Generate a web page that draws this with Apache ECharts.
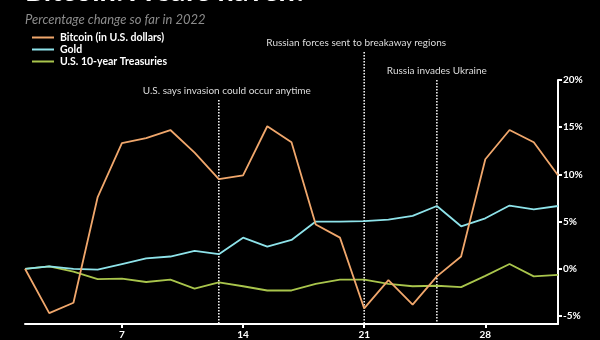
<!DOCTYPE html>
<html>
<head>
<meta charset="utf-8">
<script src="https://cdn.jsdelivr.net/npm/echarts@6/dist/echarts.min.js"></script>
<style>
html,body{margin:0;padding:0;background:#000;}
#c{width:600px;height:340px;}
</style>
</head>
<body>
<div id="c"></div>
<script>
// Trading days, Feb 1 – Mar 3, 2022
var dates = ['Feb 1','Feb 2','Feb 3','Feb 4','Feb 7','Feb 8','Feb 9','Feb 10','Feb 11','Feb 14','Feb 15','Feb 16','Feb 17','Feb 18','Feb 21','Feb 22','Feb 23','Feb 24','Feb 25','Feb 28','Mar 1','Mar 2','Mar 3'];
var tickDates = ['Feb 7','Feb 14','Feb 21','Feb 28'];
var tickLabels = ['7','14','21','28'];
var yTicks = [-5, 0, 5, 10, 15, 20];

var bitcoin = [0, -4.7, -3.6, 7.6, 13.3, 13.85, 14.7, 12.3, 9.5, 9.9, 15.1, 13.4, 4.7, 3.3, -4.2, -1.2, -3.8, -0.8, 1.3, 11.6, 14.7, 13.4, 9.9];
var gold = [0, 0.25, 0, -0.1, 0.5, 1.1, 1.3, 1.9, 1.55, 3.3, 2.35, 3.05, 5.0, 5.0, 5.05, 5.2, 5.6, 6.65, 4.5, 5.35, 6.7, 6.3, 6.65];
var treasuries = [0, 0.25, -0.3, -1.1, -1.05, -1.4, -1.15, -2.1, -1.45, -1.85, -2.3, -2.3, -1.6, -1.15, -1.15, -1.6, -1.85, -1.8, -1.95, -0.75, 0.5, -0.8, -0.65];

var events = [
  {date: 'Feb 11', text: 'U.S. says invasion could occur anytime'},
  {date: 'Feb 21', text: 'Russian forces sent to breakaway regions'},
  {date: 'Feb 24', text: 'Russia invades Ukraine'}
];

var FONT = 'Lato, "Open Sans", sans-serif';
var C_BTC = '#f0a76c', C_GOLD = '#8ee3ea', C_TSY = '#a9c54c';

var chart = echarts.init(document.getElementById('c'), null, {renderer: 'canvas'});
function isTick(idx) { return tickDates.indexOf(dates[idx]) >= 0; }

chart.setOption({
  backgroundColor: '#000',
  animation: false,
  grid: {left: 25, right: 42, top: 80, bottom: 15},
  legend: {
    orient: 'vertical', left: 27, top: 27, itemWidth: 22, itemHeight: 2, itemGap: 1,
    icon: 'rect',
    textStyle: {color: '#fff', fontSize: 10.5, fontWeight: 'bold', fontFamily: FONT, padding: [0, 0, 0, 1]},
    data: ['Bitcoin (in U.S. dollars)', 'Gold', 'U.S. 10-year Treasuries']
  },
  xAxis: {
    type: 'category', data: dates, boundaryGap: false,
    axisLine: {onZero: false, lineStyle: {color: '#fff', width: 2}},
    axisTick: {interval: function (i) { return isTick(i); }, length: 4, lineStyle: {color: '#fff', width: 2}},
    axisLabel: {
      interval: function (i) { return isTick(i); },
      formatter: function (v) { var k = tickDates.indexOf(v); return k >= 0 ? tickLabels[k] : ''; },
      color: '#fff', fontSize: 10, fontWeight: 'bold', fontFamily: FONT, margin: 6
    },
    splitLine: {show: false}
  },
  yAxis: {
    type: 'value', position: 'right', min: -5.85, max: 20,
    axisLine: {show: true, lineStyle: {color: '#fff', width: 2}},
    axisTick: {show: true, customValues: yTicks, length: 4, lineStyle: {color: '#fff', width: 2}},
    axisLabel: {customValues: yTicks, formatter: '{value}%', color: '#fff', fontSize: 10, fontWeight: 'bold', fontFamily: FONT, margin: 5},
    splitLine: {show: false}
  },
  series: [
    {name: 'U.S. 10-year Treasuries', type: 'line', data: treasuries, showSymbol: false, lineStyle: {color: C_TSY, width: 1.8}, itemStyle: {color: C_TSY}, z: 2},
    {name: 'Gold', type: 'line', data: gold, showSymbol: false, lineStyle: {color: C_GOLD, width: 1.8}, itemStyle: {color: C_GOLD}, z: 3},
    {name: 'Bitcoin (in U.S. dollars)', type: 'line', data: bitcoin, showSymbol: false, lineStyle: {color: C_BTC, width: 1.8}, itemStyle: {color: C_BTC}, z: 4}
  ]
});

// Annotations: x from the category scale, vertical placement is layout
var eventTop = [100, 52, 80];
var textShift = [8, -8, 0];
var bottomY = chart.convertToPixel({yAxisIndex: 0}, -5.85);
var g = [
  {type: 'text', x: 25, y: 6, style: {text: 'Bitcoin: A safe haven?', fill: '#fff', font: 'bold 29px ' + FONT, textVerticalAlign: 'bottom', verticalAlign: 'bottom'}},
  {type: 'text', x: 25, y: 13, style: {text: 'Percentage change so far in 2022', fill: '#8c8c8c', font: 'italic 13px ' + FONT}}
];
events.forEach(function (e, i) {
  var x = chart.convertToPixel({xAxisIndex: 0}, dates.indexOf(e.date));
  g.push({type: 'line', shape: {x1: x, y1: eventTop[i], x2: x, y2: bottomY},
          style: {stroke: '#fff', lineWidth: 1.5, lineDash: [1.5, 1.5]}, z: 1});
  g.push({type: 'text', x: x + textShift[i], y: eventTop[i] - 4,
          style: {text: e.text, fill: '#ddd', font: '10px ' + FONT, textAlign: 'center', textVerticalAlign: 'bottom', verticalAlign: 'bottom'}});
});
chart.setOption({graphic: g});
</script>
</body>
</html>
